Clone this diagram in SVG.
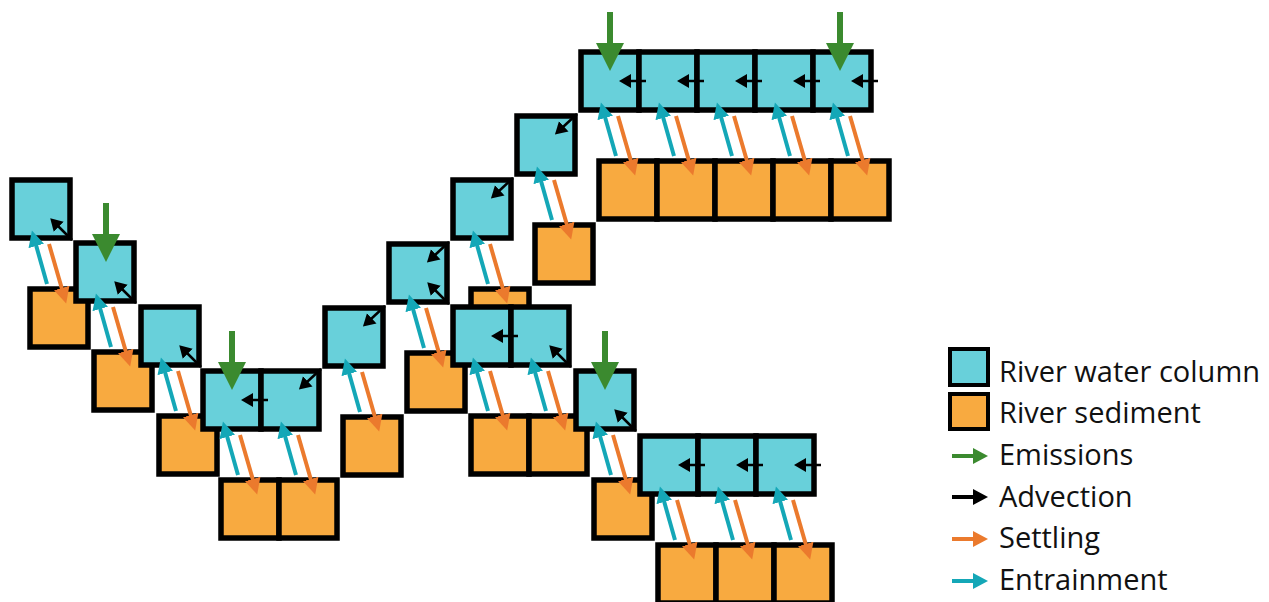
<svg xmlns="http://www.w3.org/2000/svg" width="1269" height="602" viewBox="0 0 1269 602">
<defs>
<style>
.w{fill:#68D0DA;stroke:#000;stroke-width:5.5}
.s{fill:#F8AA40;stroke:#000;stroke-width:5.5}
.ent{stroke:#14A7B7;stroke-width:4;fill:none}
.set{stroke:#EB7A2D;stroke-width:4;fill:none}
.adv{stroke:#000;stroke-width:2.5;fill:none}
.emi{stroke:#3B8A2F;stroke-width:6;fill:none}
.lw{fill:#68D0DA;stroke:#000;stroke-width:4}
.ls{fill:#F8AA40;stroke:#000;stroke-width:4}
.lt{font-family:"Open Sans","Noto Sans",sans-serif;font-size:29px;fill:#111}
</style>
<marker id="hEnt" markerUnits="userSpaceOnUse" viewBox="0 -10 20 20" markerWidth="20" markerHeight="20" refX="1" refY="0" orient="auto"><path d="M0,-8L16,0L0,8Z" fill="#14A7B7"/></marker>
<marker id="hSet" markerUnits="userSpaceOnUse" viewBox="0 -10 20 20" markerWidth="20" markerHeight="20" refX="1" refY="0" orient="auto"><path d="M0,-8L16,0L0,8Z" fill="#EB7A2D"/></marker>
<marker id="hAdv" markerUnits="userSpaceOnUse" viewBox="0 -10 20 20" markerWidth="20" markerHeight="20" refX="1" refY="0" orient="auto"><path d="M0,-7L12,0L0,7Z" fill="#000"/></marker>
<marker id="hEmi" markerUnits="userSpaceOnUse" viewBox="0 -15 30 30" markerWidth="30" markerHeight="30" refX="1" refY="0" orient="auto"><path d="M0,-14L28,0L0,14Z" fill="#3B8A2F"/></marker>
</defs>

<g id="sediments">
<g id="S1"><rect class="s" x="30" y="289" width="58" height="58"/></g>
<g id="S2"><rect class="s" x="94" y="352" width="58" height="58"/></g>
<g id="S3"><rect class="s" x="159" y="416" width="58" height="58"/></g>
<g id="S4"><rect class="s" x="221" y="480" width="58" height="58"/></g>
<g id="S5"><rect class="s" x="279" y="480" width="58" height="58"/></g>
<g id="S6"><rect class="s" x="343" y="417" width="58" height="58"/></g>
<g id="S7"><rect class="s" x="407" y="353" width="58" height="58"/></g>
<g id="S8"><rect class="s" x="471" y="289" width="58" height="58"/></g>
<g id="S9"><rect class="s" x="535" y="225" width="58" height="58"/></g>
<g id="S10"><rect class="s" x="599" y="161" width="58" height="58"/></g>
<g id="S11"><rect class="s" x="657" y="161" width="58" height="58"/></g>
<g id="S12"><rect class="s" x="715" y="161" width="58" height="58"/></g>
<g id="S13"><rect class="s" x="773" y="161" width="58" height="58"/></g>
<g id="S14"><rect class="s" x="831" y="161" width="58" height="58"/></g>
<g id="S15"><rect class="s" x="471" y="416" width="58" height="58"/></g>
<g id="S16"><rect class="s" x="529" y="416" width="58" height="58"/></g>
<g id="S17"><rect class="s" x="594" y="480" width="58" height="58"/></g>
<g id="S18"><rect class="s" x="658" y="545" width="58" height="58"/></g>
<g id="S19"><rect class="s" x="716" y="545" width="58" height="58"/></g>
<g id="S20"><rect class="s" x="774" y="545" width="58" height="58"/></g>
</g>

<g id="water">
<g id="W1"><rect class="w" x="12" y="180" width="58" height="58"/></g>
<g id="W2"><rect class="w" x="76" y="243" width="58" height="58"/></g>
<g id="W3"><rect class="w" x="141" y="307" width="58" height="58"/></g>
<g id="W4"><rect class="w" x="203" y="371" width="58" height="58"/></g>
<g id="W5"><rect class="w" x="261" y="371" width="58" height="58"/></g>
<g id="W6"><rect class="w" x="325" y="308" width="58" height="58"/></g>
<g id="W7"><rect class="w" x="389" y="244" width="58" height="58"/></g>
<g id="W8"><rect class="w" x="453" y="180" width="58" height="58"/></g>
<g id="W9"><rect class="w" x="517" y="116" width="58" height="58"/></g>
<g id="W10"><rect class="w" x="581" y="52" width="58" height="58"/></g>
<g id="W11"><rect class="w" x="639" y="52" width="58" height="58"/></g>
<g id="W12"><rect class="w" x="697" y="52" width="58" height="58"/></g>
<g id="W13"><rect class="w" x="755" y="52" width="58" height="58"/></g>
<g id="W14"><rect class="w" x="813" y="52" width="58" height="58"/></g>
<g id="W15"><rect class="w" x="453" y="307" width="58" height="58"/></g>
<g id="W16"><rect class="w" x="511" y="307" width="58" height="58"/></g>
<g id="W17"><rect class="w" x="576" y="371" width="58" height="58"/></g>
<g id="W18"><rect class="w" x="640" y="436" width="58" height="58"/></g>
<g id="W19"><rect class="w" x="698" y="436" width="58" height="58"/></g>
<g id="W20"><rect class="w" x="756" y="436" width="58" height="58"/></g>
</g>

<g id="connectors">
<g id="entrainment" marker-end="url(#hEnt)">
<line class="ent" x1="47" y1="284" x2="36" y2="245"/>
<line class="ent" x1="111" y1="347" x2="100" y2="308"/>
<line class="ent" x1="176" y1="411" x2="165" y2="372"/>
<line class="ent" x1="238" y1="475" x2="227" y2="436"/>
<line class="ent" x1="296" y1="475" x2="285" y2="436"/>
<line class="ent" x1="360" y1="412" x2="349" y2="373"/>
<line class="ent" x1="424" y1="348" x2="413" y2="309"/>
<line class="ent" x1="488" y1="284" x2="477" y2="245"/>
<line class="ent" x1="552" y1="220" x2="541" y2="181"/>
<line class="ent" x1="616" y1="156" x2="605" y2="117"/>
<line class="ent" x1="674" y1="156" x2="663" y2="117"/>
<line class="ent" x1="732" y1="156" x2="721" y2="117"/>
<line class="ent" x1="790" y1="156" x2="779" y2="117"/>
<line class="ent" x1="848" y1="156" x2="837" y2="117"/>
<line class="ent" x1="488" y1="411" x2="477" y2="372"/>
<line class="ent" x1="546" y1="411" x2="535" y2="372"/>
<line class="ent" x1="611" y1="475" x2="600" y2="436"/>
<line class="ent" x1="675" y1="540" x2="664" y2="501"/>
<line class="ent" x1="733" y1="540" x2="722" y2="501"/>
<line class="ent" x1="791" y1="540" x2="780" y2="501"/>
</g>
<g id="settling" marker-end="url(#hSet)">
<line class="set" x1="49" y1="244" x2="62" y2="289"/>
<line class="set" x1="113" y1="307" x2="126" y2="352"/>
<line class="set" x1="178" y1="371" x2="191" y2="416"/>
<line class="set" x1="240" y1="435" x2="253" y2="480"/>
<line class="set" x1="298" y1="435" x2="311" y2="480"/>
<line class="set" x1="362" y1="372" x2="375" y2="417"/>
<line class="set" x1="426" y1="308" x2="439" y2="353"/>
<line class="set" x1="490" y1="244" x2="503" y2="289"/>
<line class="set" x1="554" y1="180" x2="567" y2="225"/>
<line class="set" x1="618" y1="116" x2="631" y2="161"/>
<line class="set" x1="676" y1="116" x2="689" y2="161"/>
<line class="set" x1="734" y1="116" x2="747" y2="161"/>
<line class="set" x1="792" y1="116" x2="805" y2="161"/>
<line class="set" x1="850" y1="116" x2="863" y2="161"/>
<line class="set" x1="490" y1="371" x2="503" y2="416"/>
<line class="set" x1="548" y1="371" x2="561" y2="416"/>
<line class="set" x1="613" y1="435" x2="626" y2="480"/>
<line class="set" x1="677" y1="500" x2="690" y2="545"/>
<line class="set" x1="735" y1="500" x2="748" y2="545"/>
<line class="set" x1="793" y1="500" x2="806" y2="545"/>
</g>
<g id="advection" marker-end="url(#hAdv)">
<line class="adv" x1="646" y1="81" x2="630" y2="81"/>
<line class="adv" x1="704" y1="81" x2="688" y2="81"/>
<line class="adv" x1="762" y1="81" x2="746" y2="81"/>
<line class="adv" x1="820" y1="81" x2="804" y2="81"/>
<line class="adv" x1="878" y1="81" x2="862" y2="81"/>
<line class="adv" x1="268" y1="400" x2="252" y2="400"/>
<line class="adv" x1="518" y1="336" x2="502" y2="336"/>
<line class="adv" x1="705" y1="465" x2="689" y2="465"/>
<line class="adv" x1="763" y1="465" x2="747" y2="465"/>
<line class="adv" x1="821" y1="465" x2="805" y2="465"/>
<line class="adv" x1="577" y1="114" x2="563" y2="127"/>
<line class="adv" x1="513" y1="178" x2="499" y2="191"/>
<line class="adv" x1="449" y1="242" x2="435" y2="255"/>
<line class="adv" x1="385" y1="306" x2="371" y2="319"/>
<line class="adv" x1="321" y1="369" x2="307" y2="382"/>
<line class="adv" x1="72" y1="240" x2="58" y2="226"/>
<line class="adv" x1="136" y1="303" x2="122" y2="289"/>
<line class="adv" x1="201" y1="367" x2="187" y2="353"/>
<line class="adv" x1="449" y1="304" x2="435" y2="290"/>
<line class="adv" x1="571" y1="367" x2="557" y2="353"/>
<line class="adv" x1="636" y1="431" x2="622" y2="417"/>
</g>
<g id="emissions" marker-end="url(#hEmi)">
<line class="emi" x1="610" y1="12" x2="610" y2="44"/>
<line class="emi" x1="840" y1="12" x2="840" y2="44"/>
<line class="emi" x1="106" y1="203" x2="106" y2="235"/>
<line class="emi" x1="232" y1="331" x2="232" y2="363"/>
<line class="emi" x1="605" y1="331" x2="605" y2="363"/>
</g>
</g>

<g id="legend">
<g id="legend-water"><rect class="lw" x="950" y="349" width="38" height="36"/><text class="lt" x="999" y="382">River water column</text></g>
<g id="legend-sediment"><rect class="ls" x="950" y="394" width="38" height="35"/><text class="lt" x="999" y="423">River sediment</text></g>
<g id="legend-emissions"><line x1="952" y1="456" x2="974" y2="456" stroke="#3B8A2F" stroke-width="4"/><path d="M973,448L988,456L973,464Z" fill="#3B8A2F"/><text class="lt" x="999" y="465">Emissions</text></g>
<g id="legend-advection"><line x1="952" y1="497" x2="974" y2="497" stroke="#000" stroke-width="4"/><path d="M973,489L988,497L973,505Z" fill="#000"/><text class="lt" x="999" y="507">Advection</text></g>
<g id="legend-settling"><line x1="952" y1="539" x2="974" y2="539" stroke="#EB7A2D" stroke-width="4"/><path d="M973,531L988,539L973,547Z" fill="#EB7A2D"/><text class="lt" x="999" y="548">Settling</text></g>
<g id="legend-entrainment"><line x1="952" y1="581" x2="974" y2="581" stroke="#14A7B7" stroke-width="4"/><path d="M973,573L988,581L973,589Z" fill="#14A7B7"/><text class="lt" x="999" y="590">Entrainment</text></g>
</g>
</svg>
